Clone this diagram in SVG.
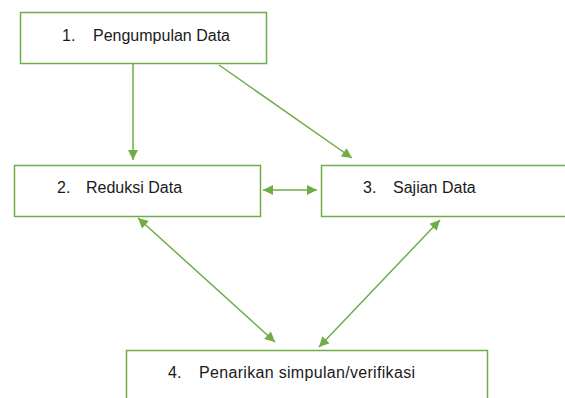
<svg xmlns="http://www.w3.org/2000/svg" width="565" height="398" viewBox="0 0 565 398">
  <style>
    .box { fill: #ffffff; stroke: #70AD47; stroke-width: 1.5; }
    .lbl { font-family: "Liberation Sans", Arial, sans-serif; font-size: 16px; fill: #1a1a1a; }
    .conn { stroke: #70AD47; stroke-width: 1.5; fill: none; }
  </style>
  <defs>
    <marker id="ah" viewBox="0 0 10 10" refX="10" refY="5" markerWidth="11" markerHeight="10" markerUnits="userSpaceOnUse" orient="auto-start-reverse">
      <path d="M0,0 L10,5 L0,10 z" fill="#70AD47"/>
    </marker>
  </defs>
  <g id="node1">
    <rect class="box" x="20.5" y="12.5" width="246" height="51"/>
    <text class="lbl" y="41"><tspan x="62">1.</tspan><tspan x="93">Pengumpulan Data</tspan></text>
  </g>
  <g id="node2">
    <rect class="box" x="14.5" y="165.5" width="246" height="51"/>
    <text class="lbl" y="193"><tspan x="57">2.</tspan><tspan x="86">Reduksi Data</tspan></text>
  </g>
  <g id="node3">
    <rect class="box" x="321.5" y="165.5" width="260" height="51"/>
    <text class="lbl" y="193"><tspan x="363">3.</tspan><tspan x="393">Sajian Data</tspan></text>
  </g>
  <g id="node4">
    <rect class="box" x="126.5" y="350.5" width="361" height="60"/>
    <text class="lbl" y="378"><tspan x="168">4.</tspan><tspan x="199" textLength="216" lengthAdjust="spacing">Penarikan simpulan/verifikasi</tspan></text>
  </g>
  <g id="connectors">
    <line class="conn" x1="133" y1="64" x2="133" y2="160" marker-end="url(#ah)"/>
    <line class="conn" x1="219" y1="65" x2="352" y2="158" marker-end="url(#ah)"/>
    <line class="conn" x1="263" y1="190" x2="317" y2="190" marker-start="url(#ah)" marker-end="url(#ah)"/>
    <line class="conn" x1="138" y1="218" x2="275" y2="342" marker-start="url(#ah)" marker-end="url(#ah)"/>
    <line class="conn" x1="440" y1="220" x2="319" y2="347" marker-start="url(#ah)" marker-end="url(#ah)"/>
  </g>
</svg>
